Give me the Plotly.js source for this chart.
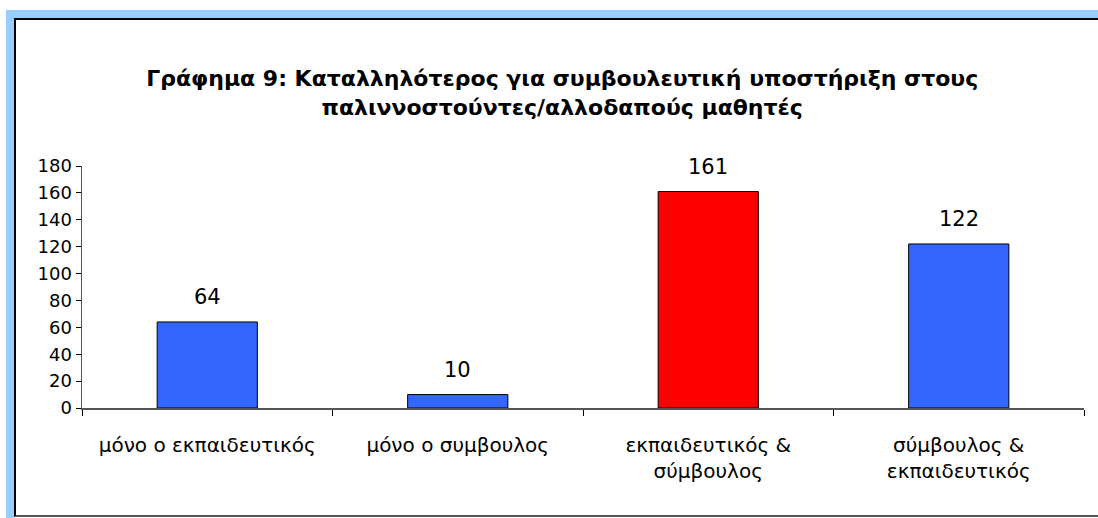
<!DOCTYPE html>
<html>
<head>
<meta charset="utf-8">
<script src="https://cdn.plot.ly/plotly-3.0.1.min.js"></script>
<style>
  html, body { margin: 0; padding: 0; background: #ffffff; }
  #wrap { position: relative; width: 1098px; height: 518px; overflow: hidden; }
  #frameBlue { position: absolute; left: 6px; top: 10px; width: 1200px; height: 600px;
               border-left: 8px solid #99CCFF; border-top: 8px solid #99CCFF; box-sizing: border-box; }
  #frameBlack { position: absolute; left: 14px; top: 18px; width: 1200px; height: 499px;
                border-left: 2px solid #000; border-top: 2px solid #000; border-bottom: 2px solid #555; box-sizing: border-box; }
  #chart { position: absolute; left: 0; top: 0; width: 1098px; height: 518px; }
</style>
</head>
<body>
<div id="wrap">
  <div id="frameBlue"></div>
  <div id="frameBlack"></div>
  <div id="chart"></div>
</div>
<script>
const categories = [
  "μόνο ο εκπαιδευτικός",
  "μόνο ο συμβουλος",
  "εκπαιδευτικός &<br>σύμβουλος",
  "σύμβουλος &<br>εκπαιδευτικός"
];
const values = [64, 10, 161, 122];
const barColors = ["#3366FF", "#3366FF", "#FF0000", "#3366FF"];
const yTicks = [0, 20, 40, 60, 80, 100, 120, 140, 160, 180];
const titleText = "Γράφημα 9: Καταλληλότερος για συμβουλευτική υποστήριξη στους<br>παλιννοστούντες/αλλοδαπούς μαθητές";

const FONT = "DejaVu Sans, Arial, sans-serif";

const trace = {
  type: "bar",
  x: categories,
  y: values,
  width: 0.4,
  marker: { color: barColors, line: { color: "#000000", width: 1 } },
  hoverinfo: "x+y"
};

const annotations = categories.map((c, i) => ({
  x: c, y: values[i], xref: "x", yref: "y",
  text: String(values[i]),
  showarrow: false, yanchor: "bottom", yshift: 11,
  font: { family: FONT, size: 21, color: "#000" }
}));

const layout = {
  width: 1098, height: 518,
  paper_bgcolor: "rgba(0,0,0,0)",
  plot_bgcolor: "rgba(0,0,0,0)",
  margin: { l: 82, r: 14, t: 166, b: 110, pad: 0 },
  showlegend: false,
  bargap: 0.6,
  title: {
    text: titleText,
    x: 0.512, xanchor: "center",
    y: 0.834, yanchor: "middle",
    font: { family: FONT, size: 22, color: "#000", weight: "bold" }
  },
  xaxis: {
    type: "category",
    showline: true, linecolor: "#555", linewidth: 1.5,
    ticks: "outside", tickson: "boundaries", ticklen: 6, tickcolor: "#000", tickwidth: 1,
    ticklabelstandoff: 18,
    showgrid: false, zeroline: false,
    tickfont: { family: FONT, size: 20, color: "#000" },
    automargin: false
  },
  yaxis: {
    range: [0, 180],
    tickvals: yTicks,
    showline: true, linecolor: "#555", linewidth: 1.5,
    ticks: "outside", ticklen: 5, tickcolor: "#000", tickwidth: 1,
    showgrid: false, zeroline: false,
    tickfont: { family: FONT, size: 18, color: "#000" },
    automargin: false
  },
  annotations: annotations
};

Plotly.newPlot("chart", [trace], layout, { displayModeBar: false, staticPlot: true });
</script>
</body>
</html>
